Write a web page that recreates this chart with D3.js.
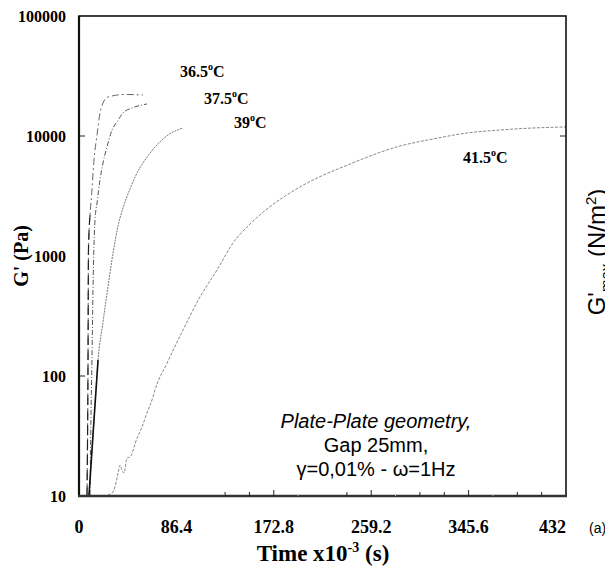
<!DOCTYPE html>
<html>
<head>
<meta charset="utf-8">
<script src="https://cdn.jsdelivr.net/npm/d3@7"></script>
<style>
  body { margin: 0; background: #fff; }
  svg { display: block; }
</style>
</head>
<body>
<div id="chart"></div>
<script>
// temperatures of the four gelation runs
const temps = ['36.5', '37.5', '39', '41.5'];

// time (x10^-3 s) and G' (Pa)
const t365 = [7.1, 8.0, 8.4, 9.8, 11.5, 13.3, 16.0, 18.6, 21.3, 25.7, 40.8, 56.8];
const g365 = [10.2, 136, 1122, 2198, 3548, 6310, 10200, 15550, 18840, 21130, 22180, 21960];

const t375 = [9.8, 10.6, 11.5, 12.4, 14.2, 16.0, 18.6, 21.3, 24.8, 29.3, 33.7, 39.0, 47.0, 60.3];
const g375 = [10.2, 43, 136, 521, 1995, 2766, 4300, 5960, 8090, 11220, 13090, 15550, 17110, 18480];

const t39 = [8.9, 13.3, 16.9, 21.3, 25.7, 30.2, 34.6, 39.9, 45.2, 51.5, 58.5, 67.4, 79.0, 92.3];
const g39 = [10.2, 43, 136, 282, 552, 1059, 1778, 2661, 3614, 4920, 6310, 8090, 10200, 11660];

const t415 = [25.7, 29.3, 31.9, 34.6, 36.4, 38.1, 39.9, 42.6, 45.2, 51.5, 55.9, 60.3, 65.6, 67.4, 78.1, 92.3,
  107.3, 122.4, 136.6, 151.7, 166.8, 196.0, 240.4, 284.8, 314.0, 344.2, 373.5, 402.7, 432];
const g415 = [10.2, 10.6, 11.9, 15.5, 18.1, 16.5, 15.5, 20.7, 21.1, 30.4, 37.6, 49.2, 66.8, 76.4, 128, 242,
  455, 764, 1283, 1848, 2464, 3758, 5843, 8250, 9440, 10590, 11220, 11660, 11890];

// axis ticks
const xTicks = [0, 86.4, 172.8, 259.2, 345.6, 432];
const xMinor = [129.6, 151.2, 237.6, 302.4, 324, 388.8, 410.4];
const xFaint = [194.4, 280.8, 367.2];
const yTicks = [10, 100, 1000, 10000, 100000];

// where the temperature labels sit, in data units
const labelAt = [[89.6, 31000], [110.9, 18500], [137.5, 11600], [340.6, 5900]];

const W = 605, H = 573;
const m = { left: 79, right: 566, top: 16, bottom: 496 };
const serif = '"Liberation Serif", "Times New Roman", serif';
const sans = '"Liberation Sans", Arial, sans-serif';

const svg = d3.select('#chart').append('svg').attr('width', W).attr('height', H);

const x = d3.scaleLinear().domain([0, 432]).range([m.left, m.right]);
const y = d3.scaleLog().domain([10, 100000]).range([m.bottom, m.top]);

const series = [
  { name: temps[0], t: t365, g: g365, dash: '7,3,2,3', color: '#666' },
  { name: temps[1], t: t375, g: g375, dash: '5,2,1,2', color: '#555' },
  { name: temps[2], t: t39, g: g39, dash: '2,1', color: '#777' },
  { name: temps[3], t: t415, g: g415, dash: '3,1.5', color: '#888' }
];

const line = d3.line().curve(d3.curveMonotoneX).x(d => x(d[0])).y(d => y(d[1]));

const plot = svg.append('g');
series.forEach(s => {
  const pts = s.t.map((t, i) => [t, s.g[i]]);
  plot.append('path')
    .datum(pts)
    .attr('d', line)
    .attr('fill', 'none')
    .attr('stroke', s.color)
    .attr('stroke-width', 1)
    .attr('stroke-dasharray', s.dash);
});

// lower part of the 39°C run is drawn solid and dark
plot.append('path')
  .datum(t39.slice(0, 3).map((t, i) => [t, g39[i]]))
  .attr('d', line)
  .attr('fill', 'none')
  .attr('stroke', '#111')
  .attr('stroke-width', 1.6);

// the nearly vertical foot of 36.5°C is a long dark dash
plot.append('path')
  .datum(t365.slice(0, 4).map((t, i) => [t, g365[i]]))
  .attr('d', line)
  .attr('fill', 'none')
  .attr('stroke', '#222')
  .attr('stroke-width', 1.2)
  .attr('stroke-dasharray', '10,5');

// frame
svg.append('rect')
  .attr('x', m.left).attr('y', m.top)
  .attr('width', m.right - m.left).attr('height', m.bottom - m.top)
  .attr('fill', 'none').attr('stroke', '#111').attr('stroke-width', 1.6);
svg.append('line')
  .attr('x1', m.left).attr('x2', m.left).attr('y1', m.top).attr('y2', m.bottom)
  .attr('stroke', '#111').attr('stroke-width', 2.2);
svg.append('line')
  .attr('x1', m.left - 1).attr('x2', m.right + 1).attr('y1', m.bottom).attr('y2', m.bottom)
  .attr('stroke', '#333').attr('stroke-width', 2.4);

// inner ticks
const ticks = svg.append('g').attr('stroke', '#222');
xMinor.forEach(v => ticks.append('line')
  .attr('x1', x(v)).attr('x2', x(v)).attr('y1', m.bottom).attr('y2', m.bottom - 4).attr('stroke-width', 1));
xTicks.slice(2, 5).forEach(v => ticks.append('line')
  .attr('x1', x(v)).attr('x2', x(v)).attr('y1', m.bottom).attr('y2', m.bottom - 6).attr('stroke-width', 1));
xFaint.forEach(v => ticks.append('line')
  .attr('x1', x(v)).attr('x2', x(v)).attr('y1', m.bottom).attr('y2', m.bottom - 2)
  .attr('stroke-width', 1).attr('stroke', '#bbb'));
[100, 10000].forEach(v => ticks.append('line')
  .attr('x1', m.left).attr('x2', m.left + 6).attr('y1', y(v)).attr('y2', y(v)).attr('stroke-width', 1));
ticks.append('line')
  .attr('x1', m.right).attr('x2', m.right - 6).attr('y1', y(10000)).attr('y2', y(10000)).attr('stroke-width', 1);

// tick labels
svg.append('g').selectAll('text').data(yTicks).join('text')
  .attr('x', 66).attr('y', d => y(d))
  .attr('dy', '0.35em')
  .attr('text-anchor', 'end')
  .attr('font-family', serif).attr('font-weight', 'bold').attr('font-size', 16)
  .text(d => d);

svg.append('g').selectAll('text').data(xTicks).join('text')
  .attr('x', d => x(d))
  .attr('y', 533)
  .attr('text-anchor', (d, i) => i === xTicks.length - 1 ? 'end' : 'middle')
  .attr('font-family', serif).attr('font-weight', 'bold').attr('font-size', 18)
  .text(d => d);

// axis titles
const xt = svg.append('text')
  .attr('x', 323).attr('y', 561)
  .attr('text-anchor', 'middle')
  .attr('font-family', serif).attr('font-weight', 'bold').attr('font-size', 23);
xt.append('tspan').text('Time x10');
xt.append('tspan').attr('dy', -9).attr('font-size', 14).text('-3');
xt.append('tspan').attr('dy', 9).text(' (s)');

svg.append('text')
  .attr('transform', 'translate(28,256) rotate(-90)')
  .attr('text-anchor', 'middle')
  .attr('font-family', serif).attr('font-weight', 'bold').attr('font-size', 20)
  .text("G' (Pa)");

// temperature labels
series.forEach((s, i) => {
  const lab = svg.append('text')
    .attr('x', x(labelAt[i][0])).attr('y', y(labelAt[i][1]))
    .attr('font-family', serif).attr('font-weight', 'bold').attr('font-size', 16);
  lab.append('tspan').text(s.name);
  lab.append('tspan').attr('dy', -7).attr('font-size', 10).text('o');
  lab.append('tspan').attr('dy', 7).text('C');
});

// test conditions
const note = svg.append('text')
  .attr('font-family', sans).attr('font-size', 20).attr('text-anchor', 'middle');
note.append('tspan').attr('x', 376).attr('y', 428).attr('font-style', 'italic').text('Plate-Plate geometry,');
note.append('tspan').attr('x', 376).attr('y', 452).text('Gap 25mm,');
note.append('tspan').attr('x', 376).attr('y', 476).text('\u03b3=0,01% - \u03c9=1Hz');

// pieces of the neighbouring panel, cut by the edge
const side = svg.append('text')
  .attr('transform', 'translate(605,252) rotate(-90)')
  .attr('text-anchor', 'middle')
  .attr('font-family', sans).attr('font-size', 24);
side.append('tspan').text("G'");
side.append('tspan').attr('dy', 6).attr('font-size', 15).text('max');
side.append('tspan').attr('dy', -6).text(' (N/m');
side.append('tspan').attr('dy', -9).attr('font-size', 15).text('2');
side.append('tspan').attr('dy', 9).text(')');

svg.append('text')
  .attr('x', 589).attr('y', 533)
  .attr('font-family', sans).attr('font-size', 14)
  .text('(a)');
</script>
</body>
</html>
